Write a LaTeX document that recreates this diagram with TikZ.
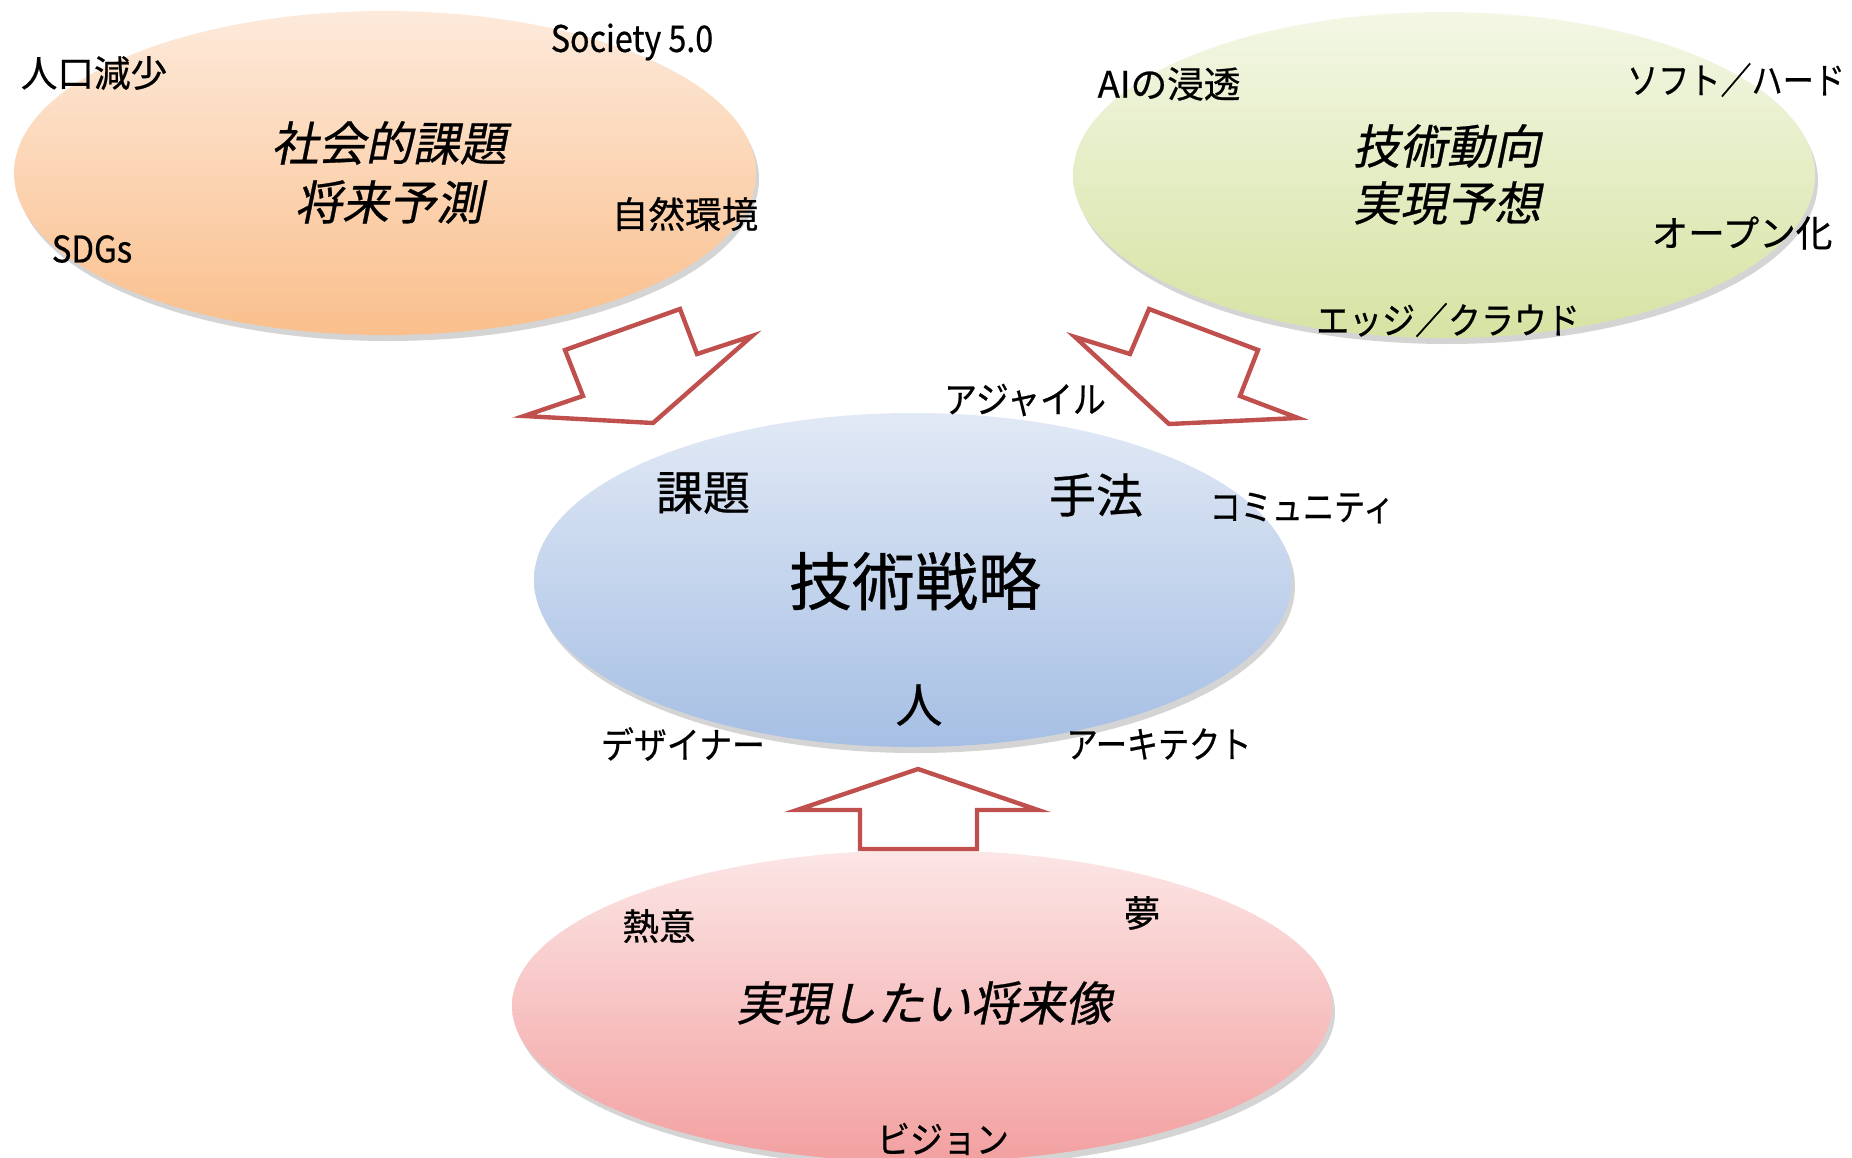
\documentclass[tikz,border=0pt]{standalone}
\usepackage{fontspec}
\setmainfont{Noto Sans CJK JP}[FakeBold=0.6]
\newfontfamily\jpit{Noto Sans CJK JP}[FakeSlant=0.2,FakeBold=0.6]
\usetikzlibrary{shapes.geometric,shadows}
\definecolor{arrowred}{HTML}{C0504D}
\definecolor{orTop}{HTML}{FDEADB}
\definecolor{orBot}{HTML}{FABF8C}
\definecolor{grTop}{HTML}{F3F7E5}
\definecolor{grBot}{HTML}{D6E3A3}
\definecolor{blTop}{HTML}{E1E9F5}
\definecolor{blBot}{HTML}{A6BFE4}
\definecolor{pkTop}{HTML}{FCE6E6}
\definecolor{pkBot}{HTML}{F3A0A0}
\tikzset{
  blob/.style={ellipse, inner sep=0pt, draw=none,
    drop shadow={opacity=0.28, shadow xshift=1.5pt, shadow yshift=-3pt, fill=black!60}},
  lbl/.style={inner sep=0pt, font=\fontsize{18.3}{22}\selectfont},
  ttl/.style={inner sep=0pt, font=\jpit\fontsize{23.5}{28}\selectfont},
  kw/.style={inner sep=0pt, font=\fontsize{23.5}{28}\selectfont},
  core/.style={inner sep=0pt, font=\fontsize{31.5}{36}\selectfont},
  blockarrow/.style={draw=arrowred, fill=white, line width=2.2pt, line join=miter}
}
\begin{document}
\begin{tikzpicture}[x=0.5pt, y=-0.5pt]
\useasboundingbox (0,0) rectangle (1852,1157);
% ellipses
\node[blob, minimum width=371pt, minimum height=162pt, top color=orTop, bottom color=orBot] (soc) at (385,173) {};
\node[blob, minimum width=371pt, minimum height=163pt, top color=grTop, bottom color=grBot] (tech) at (1444,175) {};
\node[blob, minimum width=379pt, minimum height=167pt, top color=blTop, bottom color=blBot] (strat) at (913,580) {};
\node[blob, minimum width=410pt, minimum height=156pt, top color=pkTop, bottom color=pkBot] (vis) at (922,1006) {};
% block arrows
\draw[blockarrow] (565,350) -- (680,309) -- (697,354) -- (752,336) -- (653,423) -- (524,416) -- (583,396) -- cycle;
\draw[blockarrow] (1149,309) -- (1258,350) -- (1240,396) -- (1298,418) -- (1169,424) -- (1075,337) -- (1130,354) -- cycle;
\draw[blockarrow] (918,769) -- (1038,810) -- (977,810) -- (977,849) -- (860,849) -- (860,810) -- (797,810) -- cycle;
% texts: social
\node[lbl] (t1) at (94,73) {人口減少};
\node[lbl] (t2) at (632,42) {\scalebox{0.88}[1]{Society 5.0}};
\node[ttl] (t3) at (389,143) {社会的課題};
\node[ttl] (t4) at (389,202) {将来予測};
\node[lbl] (t5) at (685,214) {自然環境};
\node[lbl] (t6) at (92,249) {\scalebox{0.9}[1]{SDGs}};
% tech
\node[lbl] (t7) at (1169,84) {AIの浸透};
\node[lbl] (t8) at (1736,80) {\scalebox{0.85}[1]{ソフト／ハード}};
\node[ttl] (t9) at (1447,146) {技術動向};
\node[ttl] (t10) at (1447,203) {実現予想};
\node[lbl] (t11) at (1742,233) {オープン化};
\node[lbl] (t12) at (1448,320) {\scalebox{0.9}[1]{エッジ／クラウド}};
% strategy
\node[lbl] (t13) at (1025,400) {\scalebox{0.9}[1]{アジャイル}};
\node[kw] (t14) at (703,493) {課題};
\node[kw] (t15) at (1096,495) {手法};
\node[lbl] (t16) at (1302,508) {\scalebox{0.85}[1]{コミュニティ}};
\node[core] (t17) at (915,581) {技術戦略};
\node[kw] (t18) at (919,705) {人};
\node[lbl] (t19) at (683,744) {\scalebox{0.9}[1]{デザイナー}};
\node[lbl] (t20) at (1159,744) {\scalebox{0.85}[1]{アーキテクト}};
% vision
\node[lbl] (t21) at (659,926) {熱意};
\node[lbl] (t22) at (1142,913) {夢};
\node[ttl] (t23) at (924,1003) {実現したい将来像};
\node[lbl] (t24) at (943,1139) {\scalebox{0.9}[1]{ビジョン}};
\end{tikzpicture}
\end{document}
